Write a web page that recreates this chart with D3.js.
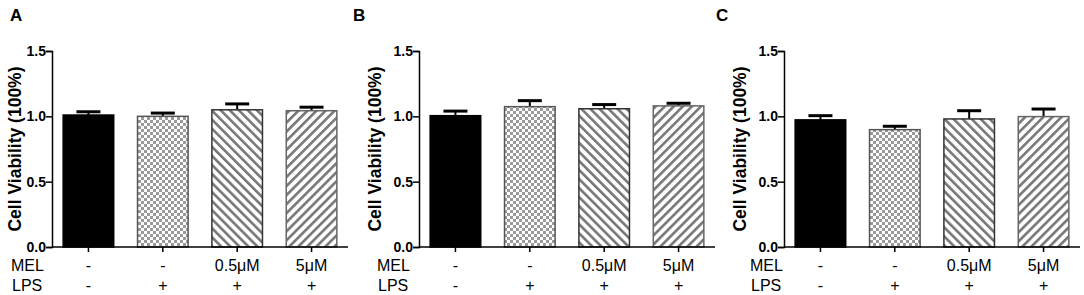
<!DOCTYPE html>
<html>
<head>
<meta charset="utf-8">
<script src="https://cdn.jsdelivr.net/npm/d3@7"></script>
<style>
  body { margin: 0; background: #fff; }
  svg { font-family: "Liberation Sans", Arial, sans-serif; }
</style>
</head>
<body>
<svg id="chart" width="1084" height="295"></svg>
<script>
// Data
var groups = ["g1", "g2", "g3", "g4"];
var melLabels = ["-", "-", "0.5\u03bcM", "5\u03bcM"];
var lpsLabels = ["-", "+", "+", "+"];
var panelNames = ["A", "B", "C"];
var meanA = [1.01, 1.00, 1.05, 1.043];
var semA = [0.025, 0.025, 0.045, 0.027];
var meanB = [1.005, 1.074, 1.058, 1.08];
var semB = [0.035, 0.046, 0.032, 0.02];
var meanC = [0.973, 0.898, 0.98, 0.998];
var semC = [0.032, 0.026, 0.063, 0.058];
var yTicks = [0.0, 0.5, 1.0, 1.5];

var means = [meanA, meanB, meanC];
var sems = [semA, semB, semC];

// layout per panel: axis origin x, y label x, row label x, panel letter x
var layout = [
  { ax: 52, labX: 21, rowX: 11, letX: 10 },
  { ax: 419, labX: 381, rowX: 377, letX: 353 },
  { ax: 784, labX: 746, rowX: 750, letX: 716 }
];
var plotW = 296, yTop = 51, yBottom = 247;

var svg = d3.select("#chart");
var defs = svg.append("defs");

// checkerboard
var chk = defs.append("pattern").attr("id", "checker")
  .attr("patternUnits", "userSpaceOnUse").attr("width", 6).attr("height", 6);
chk.append("rect").attr("width", 6).attr("height", 6).attr("fill", "#fff");
chk.append("rect").attr("width", 3).attr("height", 3).attr("fill", "#9a9a9a");
chk.append("rect").attr("x", 3).attr("y", 3).attr("width", 3).attr("height", 3).attr("fill", "#9a9a9a");

// stripes
function stripes(id, angle) {
  var p = defs.append("pattern").attr("id", id)
    .attr("patternUnits", "userSpaceOnUse").attr("width", 6.4).attr("height", 6.4)
    .attr("patternTransform", "rotate(" + angle + ")");
  p.append("rect").attr("width", 6.4).attr("height", 6.4).attr("fill", "#fff");
  p.append("rect").attr("width", 2.6).attr("height", 6.4).attr("fill", "#777");
}
stripes("back", -45);
stripes("fwd", 45);

var fills = ["#000", "url(#checker)", "url(#back)", "url(#fwd)"];
var strokes = ["#000", "#555", "#333", "#666"];

var y = d3.scaleLinear().domain([0, 1.5]).range([yBottom, yTop]);

panelNames.forEach(function(name, pi) {
  var L = layout[pi];
  var g = svg.append("g");
  var x = d3.scaleBand().domain(groups).range([L.ax, L.ax + plotW])
    .paddingInner(0.32).paddingOuter(0.15);

  g.append("text").attr("x", L.letX).attr("y", 21)
    .attr("font-size", 17).attr("font-weight", "bold").text(name);

  var data = groups.map(function(k, i) { return { k: k, i: i, m: means[pi][i], s: sems[pi][i] }; });

  // error bars (upper only, drawn behind bars)
  g.selectAll(".stem").data(data).enter().append("line")
    .attr("x1", function(d) { return x(d.k) + x.bandwidth() / 2; })
    .attr("x2", function(d) { return x(d.k) + x.bandwidth() / 2; })
    .attr("y1", function(d) { return y(d.m); })
    .attr("y2", function(d) { return y(d.m + d.s); })
    .attr("stroke", "#000").attr("stroke-width", 2);
  g.selectAll(".cap").data(data).enter().append("line")
    .attr("x1", function(d) { return x(d.k) + x.bandwidth() / 2 - 12; })
    .attr("x2", function(d) { return x(d.k) + x.bandwidth() / 2 + 12; })
    .attr("y1", function(d) { return y(d.m + d.s); })
    .attr("y2", function(d) { return y(d.m + d.s); })
    .attr("stroke", "#000").attr("stroke-width", 3);

  g.selectAll(".bar").data(data).enter().append("rect")
    .attr("x", function(d) { return x(d.k); })
    .attr("width", x.bandwidth())
    .attr("y", function(d) { return y(d.m); })
    .attr("height", function(d) { return y(0) - y(d.m); })
    .attr("fill", function(d) { return fills[d.i]; })
    .attr("stroke", function(d) { return strokes[d.i]; })
    .attr("stroke-width", 1.5);

  // y axis
  var ya = g.append("g").attr("transform", "translate(" + L.ax + ",0)")
    .call(d3.axisLeft(y).tickValues(yTicks).tickFormat(d3.format(".1f")).tickSizeOuter(0).tickSize(6));
  ya.select(".domain").attr("stroke", "#000").attr("stroke-width", 1.5);
  ya.selectAll(".tick line").attr("stroke-width", 1.5);
  ya.selectAll(".tick text").attr("font-size", 14).attr("font-weight", "bold")
    .attr("font-family", "Liberation Sans, Arial, sans-serif").attr("fill", "#000").attr("x", -6);

  // x axis
  var xa = g.append("g").attr("transform", "translate(0," + yBottom + ")")
    .call(d3.axisBottom(x).tickSize(5).tickSizeOuter(0).tickFormat(""));
  xa.select(".domain").attr("stroke", "#000").attr("stroke-width", 1.5)
    .attr("d", "M" + L.ax + ",0H" + (L.ax + plotW));
  xa.selectAll(".tick line").attr("stroke-width", 1.5);

  // treatment rows
  g.append("text").attr("x", L.rowX).attr("y", 271).attr("font-size", 16).text("MEL");
  g.append("text").attr("x", L.rowX + 1).attr("y", 291).attr("font-size", 16).text("LPS");
  g.selectAll(".mel").data(data).enter().append("text")
    .attr("x", function(d) { return x(d.k) + x.bandwidth() / 2; })
    .attr("y", 271).attr("text-anchor", "middle").attr("font-size", 16)
    .text(function(d) { return melLabels[d.i]; });
  g.selectAll(".lps").data(data).enter().append("text")
    .attr("x", function(d) { return x(d.k) + x.bandwidth() / 2; })
    .attr("y", 291).attr("text-anchor", "middle").attr("font-size", 16)
    .text(function(d) { return lpsLabels[d.i]; });

  // y label
  g.append("text")
    .attr("transform", "translate(" + L.labX + "," + ((yTop + yBottom) / 2) + ") rotate(-90)")
    .attr("text-anchor", "middle").attr("font-size", 17.5).attr("font-weight", "bold")
    .text("Cell Viability (100%)");
});
</script>
</body>
</html>
